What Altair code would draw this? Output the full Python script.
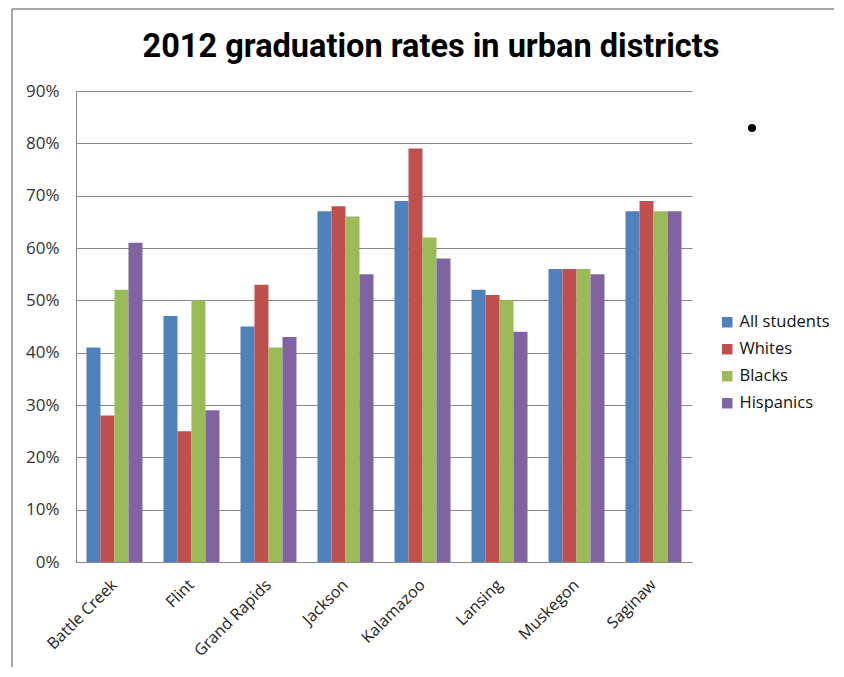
import altair as alt
import pandas as pd

districts = ["Battle Creek", "Flint", "Grand Rapids", "Jackson",
             "Kalamazoo", "Lansing", "Muskegon", "Saginaw"]
series = ["All students", "Whites", "Blacks", "Hispanics"]
all_students = [41, 47, 45, 67, 69, 52, 56, 67]
whites = [28, 25, 53, 68, 79, 51, 56, 69]
blacks = [52, 50, 41, 66, 62, 50, 56, 67]
hispanics = [61, 29, 43, 55, 58, 44, 55, 67]
colors = ["#4F81BD", "#C0504D", "#9BBB59", "#8064A2"]
y_ticks = [0, 10, 20, 30, 40, 50, 60, 70, 80, 90]
title_text = "2012 graduation rates in urban districts"

rows = []
for name, vals in zip(series, [all_students, whites, blacks, hispanics]):
    for d, v in zip(districts, vals):
        rows.append({"district": d, "series": name, "rate": v})
df = pd.DataFrame(rows)

W, H = 616, 471
PAD_L, PAD_T = 68, 83
TOTAL_W, TOTAL_H = 826, 659

bars = alt.Chart(df).mark_bar().encode(
    x=alt.X("district:N", sort=districts, title=None,
            scale=alt.Scale(paddingInner=0.273, paddingOuter=0.136),
            axis=alt.Axis(labelAngle=-45, labelAlign="right", labelBaseline="middle",
                          labelPadding=20, ticks=False, domainColor="#888888",
                          labelFont="Open Sans", labelFontSize=16, labelColor="#222222")),
    xOffset=alt.XOffset("series:N", sort=series),
    y=alt.Y("rate:Q", title=None,
            scale=alt.Scale(domain=[0, 90], nice=False),
            axis=alt.Axis(values=y_ticks, labelExpr="datum.value + '%'",
                          ticks=False, domainColor="#888888", gridColor="#888888",
                          labelPadding=17, labelFont="Open Sans", labelFontSize=17,
                          labelColor="#333333")),
    color=alt.Color("series:N", sort=series,
                    scale=alt.Scale(domain=series, range=colors),
                    legend=alt.Legend(title=None, orient="none", legendX=643, legendY=223,
                                      symbolType="square", symbolSize=110,
                                      symbolStrokeWidth=0, labelFont="Open Sans",
                                      labelFontSize=16.5, labelColor="#111111",
                                      rowPadding=10, labelOffset=4)),
)

one = pd.DataFrame({"k": [0]})
left_border = alt.Chart(one).mark_rule(color="#8a8a8a", strokeWidth=1.5).encode(
    x=alt.value(-64), y=alt.value(-82), y2=alt.value(TOTAL_H - PAD_T))
top_border = alt.Chart(one).mark_rule(color="#8a8a8a", strokeWidth=1.5).encode(
    x=alt.value(-64), x2=alt.value(TOTAL_W - PAD_L), y=alt.value(-82))
dot = alt.Chart(one).mark_point(filled=True, color="black", opacity=1, size=64).encode(
    x=alt.value(676), y=alt.value(37))
title = alt.Chart(one).mark_text(font="Roboto", fontSize=32.5, fontWeight="bold",
                                 color="#000000", align="center",
                                 baseline="alphabetic").encode(
    x=alt.value(355), y=alt.value(-34), text=alt.value(title_text))

chart = alt.layer(bars, left_border, top_border, dot, title).properties(
    width=W, height=H,
    padding={"left": PAD_L, "top": PAD_T, "right": TOTAL_W - PAD_L - W,
             "bottom": TOTAL_H - PAD_T - H},
    autosize=alt.AutoSizeParams(type="none"),
).configure_view(stroke=None).configure_axis(gridWidth=1)

chart.save("out.html", embed_options={"renderer": "svg", "actions": False})
